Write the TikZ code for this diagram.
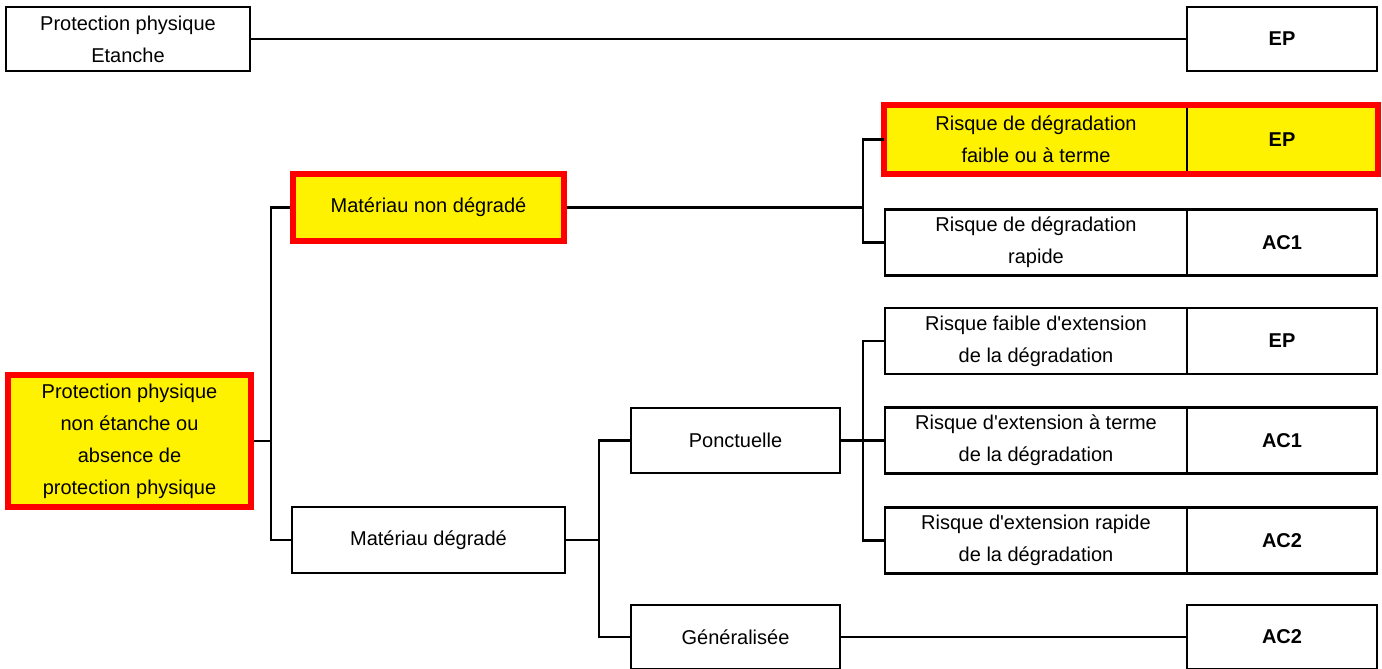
\documentclass[tikz,border=0pt]{standalone}
\usepackage{fontspec}
\setmainfont{Liberation Sans}[Ligatures=TeXOff]
\begin{document}
\begin{tikzpicture}[x=1pt,y=-1pt,
  box/.style={draw,line width=2.3pt,fill=white,inner sep=0pt,align=center,
    font=\fontsize{20}{32}\selectfont},
  res/.style={box,minimum width=190pt,minimum height=66pt,font=\fontsize{20}{32}\selectfont\bfseries},
  choix/.style={box,minimum width=302pt,minimum height=66pt},
  marque/.style={fill=yellow},
  lien/.style={line width=2.3pt}]
\useasboundingbox (0,0) rectangle (1382,669);
\node[box,minimum width=244pt,minimum height=64pt] (etanche) at (128,39) {Protection physique\\Etanche};
\node[res,minimum height=64pt] (ep0) at (1282,39) {EP};
\node[box,marque,draw=red,line width=6pt,minimum width=243pt,minimum height=132pt] (nonetanche) at (129.5,441) {Protection physique\\non étanche ou\\absence de\\protection physique};
\node[box,marque,draw=red,line width=6pt,minimum width=271pt,minimum height=67pt] (nondegrade) at (428.5,207.5) {Matériau non dégradé};
\node[box,minimum width=273pt,minimum height=66pt] (degrade) at (428.5,540) {Matériau dégradé};
\node[box,minimum width=209pt,minimum height=65pt] (ponct) at (735.5,440.5) {Ponctuelle};
\node[box,minimum width=209pt,minimum height=64pt] (gen) at (735.5,637) {Généralisée};
\node[choix,marque] (rfaible) at (1036,139.5) {Risque de dégradation\\faible ou à terme};
\node[res,marque] (ep1) at (1282,139.5) {EP};
\node[choix] (rrapide) at (1036,242.5) {Risque de dégradation\\rapide};
\node[res] (ac1a) at (1282,242.5) {AC1};
\node[choix] (efaible) at (1036,341) {Risque faible d'extension\\de la dégradation};
\node[res] (ep2) at (1282,341) {EP};
\node[choix] (eterme) at (1036,440.5) {Risque d'extension à terme\\de la dégradation};
\node[res] (ac1b) at (1282,440.5) {AC1};
\node[choix] (erapide) at (1036,540.5) {Risque d'extension rapide\\de la dégradation};
\node[res] (ac2a) at (1282,540.5) {AC2};
\node[res,minimum height=64pt] (ac2b) at (1282,637) {AC2};
\draw[red,line width=6pt] (rfaible.north west) rectangle (ep1.south east);
\coordinate (j1) at (271,441);
\coordinate (j2) at (599,540);
\coordinate (j3) at (863,207.5);
\coordinate (j4) at (863,440.5);
\draw[lien] (etanche) -- (ep0);
\draw[lien] (gen) -- (ac2b);
\draw[lien] (nonetanche.east) -- (j1);
\draw[lien] (nondegrade.west) -| (j1) |- (degrade.west);
\draw[lien] (degrade.east) -- (j2);
\draw[lien] (ponct.west) -| (j2) |- (gen.west);
\draw[lien] (nondegrade.east) -- (j3);
\draw[lien] (rfaible.west) -| (j3) |- (rrapide.west);
\draw[lien] (ponct.east) -- (j4);
\draw[lien] (efaible.west) -| (j4) |- (erapide.west);
\draw[lien] (j4) -- (eterme.west);
\end{tikzpicture}
\end{document}
